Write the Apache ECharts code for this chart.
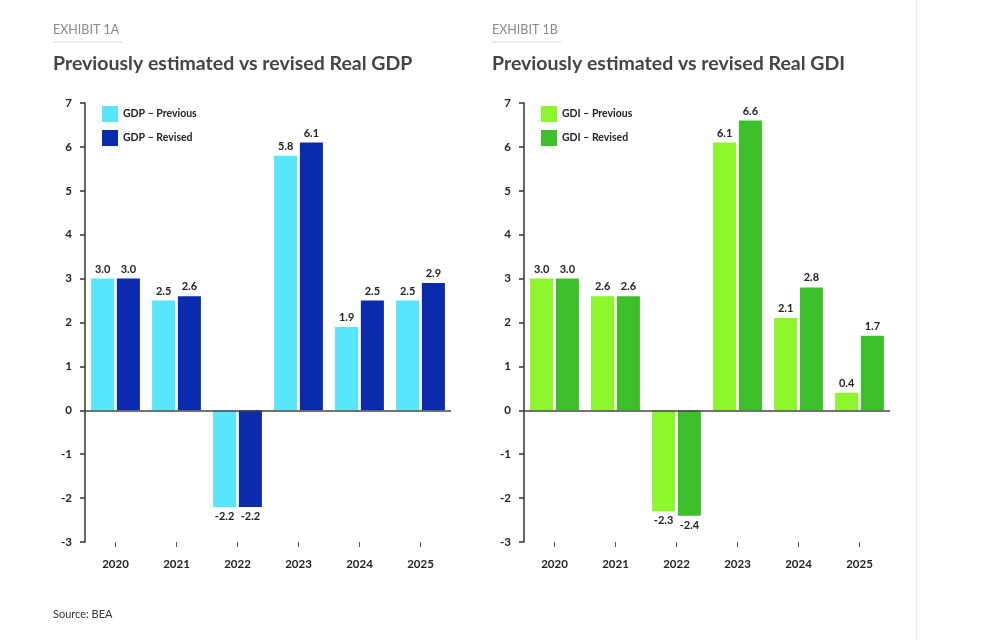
<!DOCTYPE html>
<html>
<head>
<meta charset="utf-8">
<script src="https://cdn.jsdelivr.net/npm/echarts@6/dist/echarts.min.js"></script>
<style>
  html, body { margin: 0; padding: 0; background: #fff; }
  #chart { width: 989px; height: 640px; }
</style>
</head>
<body>
<div id="chart"></div>
<script>
  // ── 資料 ──────────────────────────────
  var years = ["2020", "2021", "2022", "2023", "2024", "2025"];
  var gdpPrevious = [3.0, 2.5, -2.2, 5.8, 1.9, 2.5];
  var gdpRevised = [3.0, 2.6, -2.2, 6.1, 2.5, 2.9];
  var gdiPrevious = [3.0, 2.6, -2.3, 6.1, 2.1, 0.4];
  var gdiRevised = [3.0, 2.6, -2.4, 6.6, 2.8, 1.7];
  var yMin = -3, yMax = 7, yStep = 1;

  var FONT = "Lato, 'Noto Sans', sans-serif";
  var INK = "#222";

  var chart = echarts.init(document.getElementById("chart"), null, { renderer: "canvas" });

  function xAxis(idx) {
    return {
      type: "category", gridIndex: idx, data: years,
      axisLine: { show: false, onZero: false },
      axisTick: { show: true, alignWithLabel: true, length: 5, lineStyle: { color: "#555", width: 1 } },
      axisLabel: { color: INK, fontFamily: FONT, fontWeight: "bold", fontSize: 11.5, margin: 16 }
    };
  }
  function yAxis(idx) {
    return {
      type: "value", gridIndex: idx, min: yMin, max: yMax, interval: yStep,
      axisLine: { show: true, lineStyle: { color: "#333", width: 1.5 } },
      axisTick: { show: true, length: 5, lineStyle: { color: "#333", width: 1.5 } },
      splitLine: { show: false },
      axisLabel: { color: INK, fontFamily: FONT, fontWeight: "bold", fontSize: 11.5, margin: 13 }
    };
  }
  function label(pos) {
    return {
      show: true, color: INK, fontFamily: FONT, fontWeight: "bold", fontSize: 11, distance: 4,
      position: pos,
      formatter: function (p) { return p.value.toFixed(1); }
    };
  }
  function barData(vals) {
    return vals.map(function (v) {
      return { value: v, label: label(v < 0 ? "bottom" : "top") };
    });
  }
  function bars(name, vals, color, idx, withZero) {
    var s = {
      name: name, type: "bar", xAxisIndex: idx, yAxisIndex: idx,
      data: barData(vals), barGap: "12%", barCategoryGap: "20%",
      itemStyle: { color: color }
    };
    if (withZero) {
      s.markLine = {
        silent: true, symbol: "none", label: { show: false },
        lineStyle: { color: "#444", type: "solid", width: 1.5 },
        data: [{ yAxis: 0 }]
      };
    }
    return s;
  }
  function legend(left, names) {
    return {
      orient: "vertical", left: left, top: 106, padding: 0, itemWidth: 16, itemHeight: 16, itemGap: 8,
      icon: "rect", data: names,
      textStyle: { color: INK, fontFamily: FONT, fontSize: 10.5, fontWeight: "bold" }
    };
  }
  function head(left, exhibit, text) {
    return [
      { left: left, top: 23, padding: 0, text: exhibit,
        textStyle: { color: "#8a8a8a", fontFamily: FONT, fontSize: 12.5, fontWeight: "normal" } },
      { left: left, top: 54, padding: 0, text: text,
        textStyle: { color: "#444", fontFamily: FONT, fontSize: 19.5, fontWeight: "bold" } }
    ];
  }

  chart.setOption({
    backgroundColor: "#fff",
    animation: false,
    title: head(53, "EXHIBIT 1A", "Previously estimated vs revised Real GDP")
      .concat(head(492, "EXHIBIT 1B", "Previously estimated vs revised Real GDI"))
      .concat([{ left: 53, top: 609, padding: 0, text: "Source: BEA",
        textStyle: { color: "#333", fontFamily: FONT, fontSize: 11, fontWeight: "normal" } }]),
    legend: [legend(102, ["GDP – Previous", "GDP – Revised"]), legend(541, ["GDI – Previous", "GDI – Revised"])],
    grid: [
      { left: 85, width: 366, top: 103, height: 439, containLabel: false },
      { left: 524, width: 366, top: 103, height: 439, containLabel: false }
    ],
    xAxis: [xAxis(0), xAxis(1)],
    yAxis: [yAxis(0), yAxis(1)],
    series: [
      bars("GDP – Previous", gdpPrevious, "#58e6fc", 0, true),
      bars("GDP – Revised", gdpRevised, "#0a2bae", 0, false),
      bars("GDI – Previous", gdiPrevious, "#8cf52b", 1, true),
      bars("GDI – Revised", gdiRevised, "#3cbf2a", 1, false)
    ],
    graphic: [
      { type: "line", shape: { x1: 53, y1: 42, x2: 122, y2: 42 }, style: { stroke: "#d6d6d6", lineWidth: 1 } },
      { type: "line", shape: { x1: 492, y1: 42, x2: 561, y2: 42 }, style: { stroke: "#d6d6d6", lineWidth: 1 } },
      { type: "line", shape: { x1: 916.5, y1: 0, x2: 916.5, y2: 640 }, style: { stroke: "#e6e6e6", lineWidth: 1 } }
    ]
  });

  window.addEventListener("resize", function () { chart.resize(); });
</script>
</body>
</html>
